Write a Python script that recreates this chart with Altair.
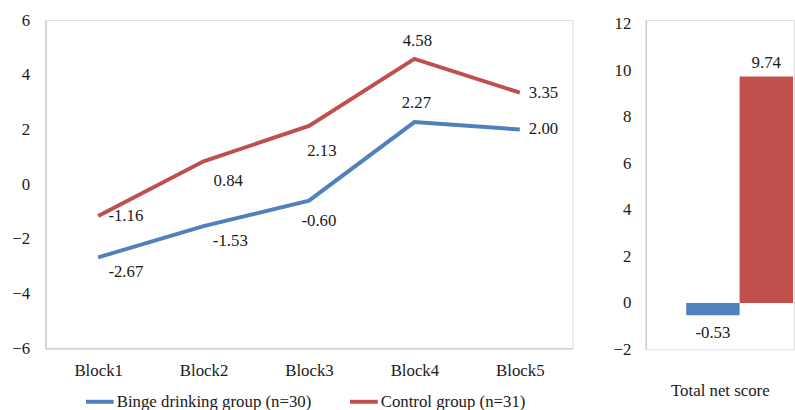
import altair as alt
import pandas as pd

# ---- data ----
blocks = ["Block1", "Block2", "Block3", "Block4", "Block5"]
groups = ["Binge drinking group (n=30)", "Control group (n=31)"]
binge_values = [-2.67, -1.53, -0.60, 2.27, 2.00]
control_values = [-1.16, 0.84, 2.13, 4.58, 3.35]
total_category = ["Total net score"]
total_values = [-0.53, 9.74]
y_ticks_left = [-6, -4, -2, 0, 2, 4, 6]
y_ticks_right = [-2, 0, 2, 4, 6, 8, 10, 12]

colors = ["#4F81BD", "#C0504D"]
FONT = "Liberation Serif, Times New Roman, serif"
TXT = "#1a1a1a"
AX = "#bfbfbf"

rows = []
for b, v in zip(blocks, binge_values):
    rows.append({"block": b, "group": groups[0], "value": v})
for b, v in zip(blocks, control_values):
    rows.append({"block": b, "group": groups[1], "value": v})
df = pd.DataFrame(rows)
df["label"] = df["value"].map(lambda v: f"{v:.2f}")

tot = pd.DataFrame({"cat": total_category * 2, "group": groups, "value": total_values})
tot["label"] = tot["value"].map(lambda v: f"{v:.2f}")

color_scale = alt.Scale(domain=groups, range=colors)

x_left = alt.X("block:N", sort=blocks,
               scale=alt.Scale(type="point", padding=0.5),
               axis=alt.Axis(title=None, labelAngle=0, ticks=False, tickSize=0,
                             labelPadding=14, domainColor=AX, labelFontSize=17,
                             labelColor=TXT, labelFont=FONT, grid=False))
y_left = alt.Y("value:Q", scale=alt.Scale(domain=[-6, 6], nice=False),
               axis=alt.Axis(title=None, values=y_ticks_left, ticks=False, tickSize=0,
                             labelPadding=16, domainColor=AX, labelFontSize=17,
                             labelColor=TXT, labelFont=FONT, grid=False))

base = alt.Chart(df)
lines = base.mark_line(strokeWidth=4).encode(
    x=x_left, y=y_left,
    color=alt.Color("group:N", scale=color_scale,
                    legend=alt.Legend(title=None, orient="none", direction="horizontal",
                                      legendX=39, legendY=370, symbolType="stroke",
                                      symbolSize=784, symbolStrokeWidth=4,
                                      labelFontSize=17, labelFont=FONT, labelColor=TXT,
                                      labelOffset=1, columnPadding=30,
                                      labelLimit=400)),
)

# per-point label offsets (dx, dy)
offsets = {
    (groups[0], "Block1"): (28, 15), (groups[0], "Block2"): (27, 15),
    (groups[0], "Block3"): (10, 21), (groups[0], "Block4"): (2, -19),
    (groups[0], "Block5"): (24, 0),
    (groups[1], "Block1"): (28, 0), (groups[1], "Block2"): (25, 20),
    (groups[1], "Block3"): (13, 25), (groups[1], "Block4"): (3, -18),
    (groups[1], "Block5"): (24, 0),
}
text_layers = []
for (g, b), (dx, dy) in offsets.items():
    text_layers.append(
        base.transform_filter((alt.datum.group == g) & (alt.datum.block == b))
        .mark_text(dx=dx, dy=dy, fontSize=17, font=FONT, color=TXT,
                   align="center", baseline="middle")
        .encode(x=alt.X("block:N", sort=blocks, scale=alt.Scale(type="point", padding=0.5)),
                y=alt.Y("value:Q", scale=alt.Scale(domain=[-6, 6], nice=False)),
                text="label:N")
    )

left = alt.layer(lines, *text_layers).properties(width=533, height=332)

# ---- right panel ----
x_right = alt.X("cat:N",
                scale=alt.Scale(paddingInner=0, paddingOuter=0.1944, align=0.976),
                axis=alt.Axis(title=total_category[0], labels=False, ticks=False,
                              domain=False, titlePadding=34, titleFontSize=17,
                              titleFont=FONT, titleColor=TXT, titleFontWeight="normal"))
y_right = alt.Y("value:Q", scale=alt.Scale(domain=[-2, 12.17], nice=False, zero=False),
                axis=alt.Axis(title=None, values=y_ticks_right, ticks=False, tickSize=0,
                              labelPadding=15, domainColor=AX, labelFontSize=17,
                              labelColor=TXT, labelFont=FONT, grid=False))
xoff = alt.XOffset("group:N", sort=groups, scale=alt.Scale(paddingInner=0, paddingOuter=0))

rbase = alt.Chart(tot)
bars = rbase.mark_bar().encode(
    x=x_right, xOffset=xoff, y=y_right,
    color=alt.Color("group:N", scale=color_scale, legend=None),
)
pos_text = rbase.transform_filter(alt.datum.value >= 0).mark_text(
    dy=-14, fontSize=17, font=FONT, color=TXT, align="center", baseline="middle"
).encode(x="cat:N", xOffset=alt.XOffset("group:N", sort=groups), y="value:Q", text="label:N")
neg_text = rbase.transform_filter(alt.datum.value < 0).mark_text(
    dy=18, fontSize=17, font=FONT, color=TXT, align="center", baseline="middle"
).encode(x="cat:N", xOffset=alt.XOffset("group:N", sort=groups), y="value:Q", text="label:N")

right = alt.layer(bars, pos_text, neg_text).properties(width=150, height=333)

chart = alt.hconcat(left, right, spacing=39).properties(
    padding={"left": 11, "top": 8, "right": 0, "bottom": 0}
).configure_view(strokeWidth=0).configure(font=FONT)

chart.save("out.html", embed_options={"renderer": "svg", "actions": False})
